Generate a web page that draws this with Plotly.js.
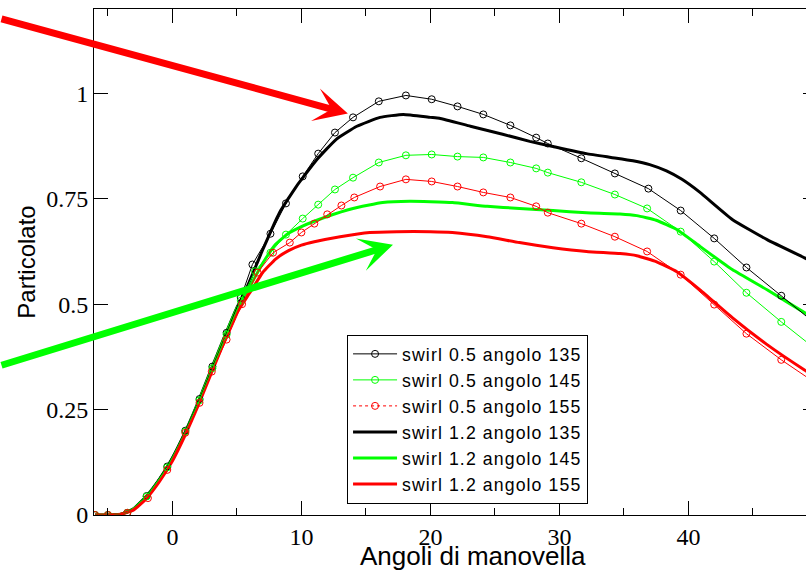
<!DOCTYPE html>
<html>
<head>
<meta charset="utf-8">
<script src="https://cdn.plot.ly/plotly-3.0.1.min.js"></script>
<style>
html, body { margin: 0; padding: 0; overflow: hidden; background: #fff; }
#chart { width: 822px; height: 590px; }
text.legendtext { letter-spacing: 1.1px !important; }
</style>
</head>
<body>
<div id="chart"></div>
<script>
// swirl 0.5 angolo 135 (black, thin with markers)
const xB05 = [-6, -5, -3.5, -2, -0.4, 1, 2.1, 3.1, 4.2, 5.3, 6.2, 7.6, 8.8, 10.1, 11.3, 12.6, 14.0, 16.0, 18.1, 20.1, 22.1, 24.1, 26.2, 28.2, 29.1, 31.7, 34.3, 36.9, 39.4, 42.0, 44.5, 47.2, 50];
const yB05 = [0, 0, 0.005, 0.045, 0.115, 0.2, 0.275, 0.352, 0.432, 0.515, 0.594, 0.667, 0.739, 0.803, 0.857, 0.907, 0.943, 0.981, 0.995, 0.986, 0.969, 0.950, 0.924, 0.895, 0.881, 0.846, 0.810, 0.774, 0.722, 0.656, 0.587, 0.520, 0.45];

// swirl 0.5 angolo 145 (green, thin with markers)
const xG05 = [-6, -5, -3.5, -2, -0.4, 1, 2.1, 3.1, 4.2, 5.3, 6.4, 7.6, 8.8, 10.1, 11.3, 12.6, 14.0, 16.0, 18.1, 20.1, 22.1, 24.1, 26.2, 28.2, 29.1, 31.7, 34.3, 36.8, 39.4, 42.0, 44.5, 47.2, 50];
const yG05 = [0, 0, 0.005, 0.044, 0.113, 0.198, 0.272, 0.348, 0.428, 0.508, 0.578, 0.622, 0.665, 0.703, 0.736, 0.772, 0.800, 0.836, 0.853, 0.855, 0.850, 0.848, 0.836, 0.822, 0.812, 0.789, 0.760, 0.727, 0.672, 0.601, 0.527, 0.458, 0.39];

// swirl 0.5 angolo 155 (red, thin with markers)
const xR05 = [-6, -5, -3.5, -1.9, -0.4, 1.0, 2.1, 3.05, 4.2, 5.4, 6.6, 7.8, 9.1, 10.0, 11.0, 12.0, 13.1, 14.1, 16.1, 18.1, 20.1, 22.1, 24.1, 26.2, 28.2, 29.1, 31.7, 34.3, 36.8, 39.4, 42.0, 44.5, 47.2, 50];
const yR05 = [0, 0, 0.005, 0.04, 0.107, 0.195, 0.266, 0.34, 0.416, 0.5, 0.575, 0.622, 0.646, 0.670, 0.691, 0.713, 0.734, 0.753, 0.779, 0.796, 0.791, 0.779, 0.765, 0.753, 0.732, 0.717, 0.691, 0.660, 0.625, 0.570, 0.499, 0.430, 0.368, 0.31];

// swirl 1.2 angolo 135 (black, thick)
const xB12 = [-6, -4, -3, -2, -1, 0, 1, 2, 3, 4, 5, 5.6, 7.0, 8.3, 9.6, 11.2, 12.7, 14.3, 16.1, 17.9, 20.0, 20.7, 23.1, 25.6, 27.7, 29.5, 32.1, 34.0, 35.7, 37.0, 38.3, 39.5, 40.9, 43.4, 46.1, 49.0, 50];
const yB12 = [0, 0.002, 0.015, 0.045, 0.085, 0.135, 0.197, 0.268, 0.345, 0.42, 0.492, 0.527, 0.629, 0.717, 0.779, 0.843, 0.891, 0.922, 0.943, 0.950, 0.943, 0.941, 0.922, 0.903, 0.886, 0.874, 0.857, 0.848, 0.840, 0.831, 0.816, 0.796, 0.765, 0.701, 0.653, 0.610, 0.595];

// swirl 1.2 angolo 145 (green, thick)
const xG12 = [-6, -4, -3, -2, -1, 0, 1, 2, 3, 4, 5, 6, 7, 8, 9, 10, 12, 14, 16.3, 18.4, 20.0, 21.7, 24.4, 26.9, 29.5, 32.1, 34.7, 36.0, 37.5, 39.1, 40.9, 43.4, 46.1, 49.0, 50];
const yG12 = [0, 0.002, 0.014, 0.044, 0.084, 0.133, 0.195, 0.266, 0.342, 0.418, 0.49, 0.542, 0.597, 0.642, 0.668, 0.684, 0.708, 0.727, 0.741, 0.744, 0.743, 0.741, 0.732, 0.727, 0.722, 0.717, 0.714, 0.710, 0.699, 0.677, 0.637, 0.582, 0.534, 0.480, 0.462];

// swirl 1.2 angolo 155 (red, thick)
const xR12 = [-6, -4, -3, -2, -1, 0, 1, 2, 3, 4, 5, 6, 7, 8, 9, 10, 11, 13, 15.3, 17.4, 20.0, 21.7, 24.4, 26.9, 29.5, 32.1, 34.7, 36.0, 37.5, 39.1, 40.9, 43.4, 46.1, 49.0, 50];
const yR12 = [0, 0.002, 0.012, 0.04, 0.08, 0.128, 0.19, 0.26, 0.335, 0.41, 0.48, 0.527, 0.575, 0.607, 0.627, 0.640, 0.648, 0.660, 0.670, 0.672, 0.672, 0.670, 0.660, 0.646, 0.634, 0.625, 0.620, 0.615, 0.601, 0.577, 0.534, 0.468, 0.404, 0.344, 0.325];

const names = ['swirl 0.5 angolo 135', 'swirl 0.5 angolo 145', 'swirl 0.5 angolo 155',
               'swirl 1.2 angolo 135', 'swirl 1.2 angolo 145', 'swirl 1.2 angolo 155'];
const xTicks = [0, 10, 20, 30, 40];
const yTicks = [0, 0.25, 0.5, 0.75, 1];
const xTitle = 'Angoli di manovella';
const yTitle = 'Particolato';

const BLACK = '#000000', GREEN = '#00ff00', RED = '#ff0000';

function thin(x, y, name, color, dash) {
  return {x: x, y: y, name: name, type: 'scatter', mode: 'lines+markers',
    line: {color: color, width: 1, dash: dash || 'solid'},
    marker: {symbol: 'circle-open', size: 7, color: color, line: {width: 1, color: color}}};
}
function thick(x, y, name, color) {
  return {x: x, y: y, name: name, type: 'scatter', mode: 'lines',
    line: {color: color, width: 3, shape: 'spline', smoothing: 0.4}};
}

const r05 = thin(xR05, yR05, names[2], RED);
r05.showlegend = false;
const r05legend = thin([null], [null], names[2], RED, 'dot');

const data = [
  thick(xB12, yB12, names[3], BLACK),
  thick(xG12, yG12, names[4], GREEN),
  thick(xR12, yR12, names[5], RED),
  thin(xB05, yB05, names[0], BLACK),
  thin(xG05, yG05, names[1], GREEN),
  r05,
  r05legend
];
data[0].legendrank = 4; data[1].legendrank = 5; data[2].legendrank = 6;
data[3].legendrank = 1; data[4].legendrank = 2; data[6].legendrank = 3;

const axisCommon = {
  showline: true, linecolor: '#000', linewidth: 1, mirror: 'ticks',
  ticks: 'inside', ticklen: 14, tickwidth: 1, tickcolor: '#000',
  showgrid: false, zeroline: false,
  tickfont: {family: 'Liberation Serif, serif', size: 24, color: '#000'}
};

const layout = {
  width: 822, height: 590,
  margin: {l: 94, r: 5, t: 9, b: 75},
  paper_bgcolor: '#fff', plot_bgcolor: '#fff',
  showlegend: true,
  xaxis: Object.assign({}, axisCommon, {
    range: [-6.08, 49.97], tickmode: 'array', tickvals: xTicks,
    minor: {dtick: 5, tick0: 0, ticks: 'inside', ticklen: 7, tickcolor: '#000', tickwidth: 1, showgrid: false}
  }),
  yaxis: Object.assign({}, axisCommon, {
    range: [0, 1.2], tickmode: 'array', tickvals: yTicks,
    title: {text: yTitle, font: {family: 'Liberation Sans, Arial, sans-serif', size: 24, color: '#000'}, standoff: 3}
  }),
  legend: {
    x: 0.35, y: 0.356, xanchor: 'left', yanchor: 'top',
    bgcolor: '#fff', bordercolor: '#000', borderwidth: 1, itemwidth: 44,
    font: {family: 'Liberation Sans, Arial, sans-serif', size: 17.7, color: '#000'},
    traceorder: 'normal'
  },
  annotations: [
    {x: 0.524, y: -0.1126, xref: 'paper', yref: 'paper', xanchor: 'center', yanchor: 'bottom',
     text: xTitle, showarrow: false, borderpad: 0,
     font: {family: 'Liberation Sans, Arial, sans-serif', size: 26, color: '#000'}},
    {x: 13.6, y: 0.952, xref: 'x', yref: 'y', ax: -358, ay: -95, axref: 'pixel', ayref: 'pixel',
     text: '', showarrow: true, arrowcolor: RED, arrowwidth: 7, arrowhead: 3, arrowsize: 0.8},
    {x: 17.1, y: 0.641, xref: 'x', yref: 'y', ax: -403, ay: 121, axref: 'pixel', ayref: 'pixel',
     text: '', showarrow: true, arrowcolor: GREEN, arrowwidth: 7, arrowhead: 3, arrowsize: 0.8}
  ]
};

Plotly.newPlot('chart', data, layout, {displayModeBar: false, staticPlot: true});
</script>
</body>
</html>
